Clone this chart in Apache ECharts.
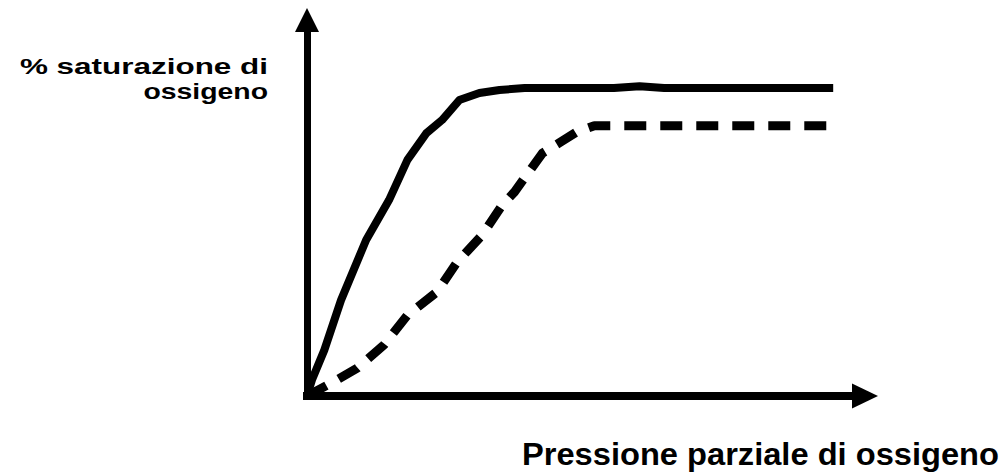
<!DOCTYPE html>
<html>
<head>
<meta charset="utf-8">
<script src="https://cdn.jsdelivr.net/npm/echarts@6/dist/echarts.min.js"></script>
<style>
html,body{margin:0;padding:0;background:#fff;}
#chart{width:1008px;height:475px;}
</style>
</head>
<body>
<div id="chart"></div>
<script>
// Data (x: partial pressure of oxygen, arbitrary 0-100; y: % saturation)
var solidX = [0, 0.9, 3.1, 6.1, 10.6, 14.7, 18.0, 21.4, 24.2, 27.3, 30.9, 34.5, 39.0, 55.0, 59.6, 64.0, 94.3];
var solidY = [0, 4.3, 12.2, 25.5, 41.5, 52.1, 62.8, 69.9, 73.4, 78.7, 80.6, 81.4, 81.9, 81.9, 82.4, 81.9, 81.9];
var dashedX = [0, 5.4, 9.0, 13.8, 18.0, 23.3, 26.9, 31.4, 35.0, 37.2, 42.2, 45.2, 48.3, 51.5, 94.1];
var dashedY = [0, 4.3, 7.4, 13.6, 21.5, 27.7, 35.6, 42.8, 50.8, 54.3, 64.6, 67.3, 70.2, 71.9, 71.9];
var yLabelLines = ['% saturazione di', 'ossigeno'];
var xLabel = 'Pressione parziale di ossigeno';

function pairs(xs, ys) { return xs.map(function (x, i) { return [x, ys[i]]; }); }

var chart = echarts.init(document.getElementById('chart'), null, {renderer: 'svg'});
chart.setOption({
  animation: false,
  backgroundColor: '#fff',
  grid: {left: 307, right: 143, top: 20, bottom: 79, containLabel: false},
  xAxis: {
    type: 'value', min: 0, max: 100,
    axisLine: {show: true, symbol: ['none', 'triangle'], symbolSize: [25, 26],
      lineStyle: {color: '#000', width: 8, cap: 'square'}},
    axisTick: {show: false}, axisLabel: {show: false}, splitLine: {show: false}
  },
  yAxis: {
    type: 'value', min: 0, max: 100,
    axisLine: {show: true, symbol: ['none', 'triangle'], symbolSize: [24, 24],
      lineStyle: {color: '#000', width: 7, cap: 'square'}},
    axisTick: {show: false}, axisLabel: {show: false}, splitLine: {show: false}
  },
  series: [
    {type: 'line', data: pairs(solidX, solidY), showSymbol: false, symbol: 'none',
      lineStyle: {color: '#000', width: 8, cap: 'butt', join: 'round'}},
    {type: 'line', data: pairs(dashedX, dashedY), showSymbol: false, symbol: 'none',
      lineStyle: {color: '#000', width: 9, type: [22, 14], cap: 'butt', join: 'round'}}
  ],
  graphic: [
    {type: 'text', x: 268, y: 66, scaleX: 1.43, style: {text: yLabelLines[0],
      font: 'bold 22px "Liberation Sans", Arial, sans-serif', fill: '#000', align: 'right', verticalAlign: 'middle'}},
    {type: 'text', x: 268, y: 91, scaleX: 1.29, style: {text: yLabelLines[1],
      font: 'bold 22px "Liberation Sans", Arial, sans-serif', fill: '#000', align: 'right', verticalAlign: 'middle'}},
    {type: 'text', x: 522, y: 454, scaleX: 1.02, style: {text: xLabel,
      font: 'bold 32px "Liberation Sans", Arial, sans-serif', fill: '#000', align: 'left', verticalAlign: 'middle'}}
  ]
});
</script>
</body>
</html>
